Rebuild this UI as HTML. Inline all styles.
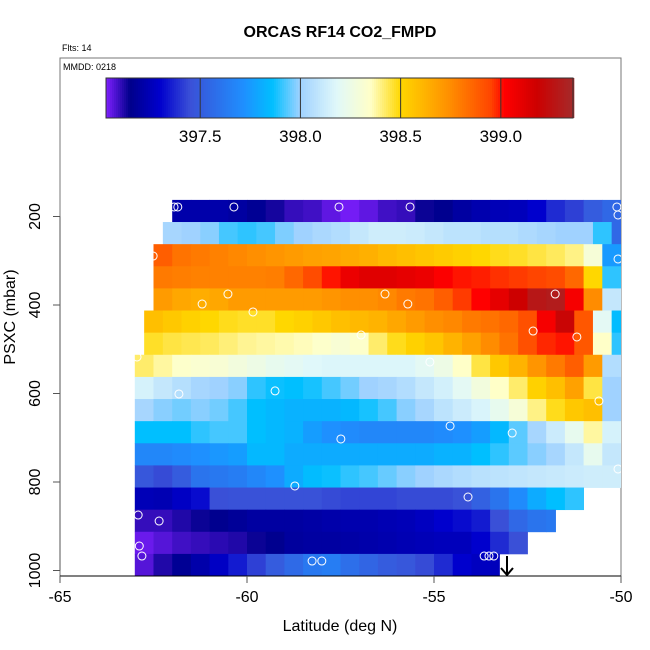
<!DOCTYPE html>
<html><head><meta charset="utf-8"><style>
html,body{margin:0;padding:0;background:#fff;}
svg{display:block;font-family:"Liberation Sans",Arial,sans-serif;}
</style></head><body>
<svg id="chart" width="650" height="650" viewBox="0 0 650 650" xmlns="http://www.w3.org/2000/svg">
<defs><clipPath id="plotclip"><rect x="60" y="58" width="561" height="518"/></clipPath></defs>
<text x="340" y="37" text-anchor="middle" font-size="16" font-weight="bold">ORCAS RF14 CO2_FMPD</text>
<text x="62" y="51" font-size="9">Flts: 14</text>
<rect x="60" y="58" width="561" height="518" fill="none" stroke="#777" stroke-width="1"/>
<text x="63" y="70" font-size="9">MMDD: 0218</text>
<g id="cells" clip-path="url(#plotclip)"></g>
<g id="points" clip-path="url(#plotclip)"></g>
<g id="colorbar"></g>
<g id="axes"></g>
<path d="M507,556 L507,575 M501,568 L507,575 L513,568" stroke="#000" stroke-width="2" fill="none"/>
<text x="340" y="631" text-anchor="middle" font-size="16">Latitude (deg N)</text>
<text transform="translate(15,317) rotate(-90)" text-anchor="middle" font-size="16">PSXC (mbar)</text>
</svg>
<script>
// ---- data ----
const pressureCenters = [187.5,237.5,287.5,337.5,387.5,437.5,487.5,537.5,587.5,637.5,687.5,737.5,787.5,837.5,887.5,937.5,987.5];
const rowStartLat = [-62,-62.25,-62.5,-62.5,-62.5,-62.75,-62.75,-63,-63,-63,-63,-63,-63,-63,-63,-63,-63];
const rowEndLat = [-50,-50,-50,-50,-50,-50,-50,-50,-50,-50,-50,-50,-50,-51,-51.75,-52.5,-53.25];
const cellWidthDeg = 0.5;
const row1 = [397.22,397.22,397.22,397.2,397.17,397.13,397.1,397.09,397.06,397.04,397.06,397.09,397.1,397.14,397.16,397.2,397.23,397.25,397.26,397.3,397.38,397.42,397.5,397.55];
const row2 = [398.02,398.0,397.98,397.92,397.9,397.92,397.97,398.0,398.03,398.05,398.1,398.13,398.13,398.12,398.1,398.08,398.08,398.06,398.06,398.04,398.02,398.0,398.0,397.9,397.55];
const row3 = [398.88,398.82,398.8,398.78,398.76,398.74,398.72,398.7,398.68,398.67,398.65,398.63,398.6,398.58,398.56,398.54,398.52,398.5,398.48,398.47,398.45,398.43,398.4,398.3,397.75];
const row4 = [398.8,398.79,398.78,398.78,398.78,398.78,398.79,398.85,398.93,399.0,399.08,399.12,399.12,399.1,399.08,399.03,399.0,398.99,398.97,398.96,398.95,398.93,398.85,398.5,397.9];
const row5 = [398.7,398.66,398.64,398.66,398.7,398.7,398.7,398.7,398.7,398.72,398.74,398.74,398.76,398.8,398.82,398.88,398.96,399.02,399.1,399.18,399.28,399.3,399.05,398.75,398.1];
const row6 = [398.58,398.55,398.52,398.5,398.48,398.47,398.47,398.5,398.52,398.55,398.58,398.6,398.62,398.66,398.7,398.74,398.76,398.8,398.82,398.85,398.92,399.05,399.2,398.9,398.2,397.85];
const row7 = [398.47,398.45,398.44,398.43,398.41,398.39,398.38,398.37,398.36,398.34,398.31,398.34,398.42,398.48,398.52,398.56,398.62,398.68,398.75,398.82,398.92,398.98,399.0,398.9,398.35,397.9];
const row8 = [398.42,398.38,398.34,398.32,398.31,398.28,398.25,398.22,398.2,398.18,398.17,398.17,398.17,398.17,398.17,398.2,398.25,398.35,398.45,398.55,398.62,398.72,398.8,398.88,398.7,398.05];
const row9 = [398.15,398.1,398.06,398.02,398.0,397.98,397.9,397.87,397.86,397.88,397.92,397.96,398.0,398.02,398.05,398.1,398.14,398.2,398.28,398.35,398.42,398.52,398.58,398.68,398.45,398.0];
const row10 = [398.02,397.98,397.96,397.98,397.96,397.92,397.86,397.84,397.82,397.82,397.82,397.84,397.88,397.92,397.98,398.02,398.08,398.12,398.16,398.22,398.3,398.4,398.48,398.55,398.58,398.0];
const row11 = [397.86,397.86,397.86,397.9,397.92,397.92,397.86,397.84,397.82,397.76,397.72,397.7,397.68,397.68,397.68,397.68,397.7,397.72,397.76,397.84,397.94,398.02,398.12,398.22,398.38,398.15];
const row12 = [397.68,397.68,397.7,397.72,397.74,397.76,397.84,397.84,397.8,397.8,397.8,397.8,397.8,397.8,397.8,397.8,397.82,397.82,397.86,397.9,397.94,397.98,398.02,398.1,398.22,398.1];
const row13 = [397.48,397.44,397.5,397.6,397.62,397.64,397.68,397.72,397.8,397.85,397.87,397.9,397.92,397.95,397.98,398.0,398.03,398.05,398.07,398.08,398.09,398.1,398.11,398.12,398.13,398.13];
const row14 = [397.25,397.24,397.28,397.32,397.45,397.46,397.46,397.46,397.46,397.46,397.44,397.43,397.43,397.43,397.44,397.44,397.44,397.46,397.52,397.6,397.7,397.8,397.86,397.9];
const row15 = [397.1,397.1,397.12,397.14,397.16,397.18,397.2,397.2,397.2,397.21,397.22,397.23,397.23,397.24,397.25,397.27,397.3,397.32,397.35,397.45,397.55,397.6,397.62];
const row16 = [397.05,397.07,397.09,397.1,397.11,397.12,397.14,397.16,397.19,397.2,397.2,397.21,397.22,397.23,397.24,397.25,397.26,397.26,397.3,397.38,397.45];
const row17 = [397.07,397.12,397.17,397.22,397.28,397.35,397.42,397.5,397.56,397.62,397.64,397.58,397.54,397.5,397.48,397.44,397.38,397.3,397.27,397.26];
const rows = [row1,row2,row3,row4,row5,row6,row7,row8,row9,row10,row11,row12,row13,row14,row15,row16,row17];
const pointLat = [-61.95,-61.85,-60.35,-57.54,-55.64,-50.11,-50.08,-62.51,-50.08,-61.2,-60.51,-56.31,-55.7,-51.76,-59.84,-56.95,-52.35,-51.18,-62.94,-55.11,-61.82,-59.25,-50.59,-54.57,-52.91,-57.49,-50.08,-58.72,-54.09,-62.91,-62.35,-62.88,-62.81,-58.26,-58.0,-53.66,-53.53,-53.4];
const pointP = [178.5,178.5,178.5,178.5,178.5,178.5,196.6,289.3,296,397.8,375.2,375.2,397.8,375.2,415.8,467.8,458.8,472.3,517.5,528.8,601,594.2,617,673.4,689.3,702.8,770.6,809,833.9,874.6,888.2,944.7,967.3,978.6,978.6,967.3,967.3,967.3];
const xTicks = [-65,-60,-55,-50];
const yTicks = [200,400,600,800,1000];
const cbTicks = [397.5,398.0,398.5,399.0];
const cbMin = 397.03, cbMax = 399.36;

// ---- scales ----
const xScale = lat => 60 + (lat + 65) * 37.4;
const yScale = p => 216.5 + (p - 200) * 0.4425;
const rowHalf = 25;
const stops = [[397.03,[127,31,255]],[397.15,[0,0,139]],[397.3,[0,0,205]],[397.45,[58,80,215]],[397.72,[30,144,255]],[397.86,[0,191,255]],[398.0,[160,210,255]],[398.18,[224,248,250]],[398.35,[255,255,200]],[398.5,[255,215,0]],[398.75,[255,140,0]],[398.95,[255,69,0]],[399.02,[255,0,0]],[399.18,[205,0,0]],[399.36,[165,42,42]]];
function color(v){
  if(v<=stops[0][0]) return 'rgb('+stops[0][1].join(',')+')';
  for(let i=1;i<stops.length;i++){
    if(v<=stops[i][0]){
      const a=stops[i-1],b=stops[i],t=(v-a[0])/(b[0]-a[0]);
      return 'rgb('+a[1].map((c,k)=>Math.round(c+(b[1][k]-c)*t)).join(',')+')';
    }
  }
  return 'rgb('+stops[stops.length-1][1].join(',')+')';
}
const NS='http://www.w3.org/2000/svg';
function mk(tag,attrs,parent){const e=document.createElementNS(NS,tag);for(const k in attrs)e.setAttribute(k,attrs[k]);parent.appendChild(e);return e;}

// ---- cells ----
const gCells=document.getElementById('cells');
rows.forEach((vals,r)=>{
  const y0=yScale(pressureCenters[r]-rowHalf), y1=yScale(pressureCenters[r]+rowHalf);
  vals.forEach((v,i)=>{
    const l0=rowStartLat[r]+i*cellWidthDeg;
    const l1=Math.min(l0+cellWidthDeg,rowEndLat[r]);
    if(l1<=l0) return;
    const x0=xScale(l0), x1=xScale(l1);
    const c=mk('rect',{x:x0.toFixed(2),y:y0.toFixed(2),width:(x1-x0+0.4).toFixed(2),height:(y1-y0+0.4).toFixed(2),fill:color(v)},gCells);
    
    
  });
});

// ---- points ----
const gPts=document.getElementById('points');
pointLat.forEach((lat,i)=>{
  const c=mk('circle',{cx:xScale(lat).toFixed(2),cy:yScale(pointP[i]).toFixed(2),r:4,fill:'none',stroke:'#fff','stroke-width':1},gPts);
  
  
});

// ---- colorbar ----
const gCb=document.getElementById('colorbar');
const cbX0=106, cbX1=573, cbY0=78, cbY1=118;
const cbX = v => cbX0 + (v - cbMin) / (cbMax - cbMin) * (cbX1 - cbX0);
for(let x=cbX0;x<cbX1;x+=2){
  const v=cbMin+(x+1-cbX0)/(cbX1-cbX0)*(cbMax-cbMin);
  mk('rect',{x:x,y:cbY0,width:2.3,height:cbY1-cbY0,fill:color(v)},gCb);
}
mk('rect',{x:cbX0,y:cbY0,width:cbX1-cbX0,height:cbY1-cbY0,fill:'none',stroke:'#333','stroke-width':1},gCb);
cbTicks.forEach(t=>{
  const x=cbX(t);
  const l=mk('line',{x1:x,x2:x,y1:cbY0,y2:cbY1,stroke:'#333','stroke-width':1},gCb);
  
  
  const tx=mk('text',{x:x,y:142,'text-anchor':'middle','font-size':17},gCb);
  tx.textContent=t.toFixed(1);
  
  
});

// ---- axes ----
const gAx=document.getElementById('axes');
mk('line',{x1:60,x2:621,y1:576,y2:576,stroke:'#000','stroke-width':1},gAx);
mk('line',{x1:60,x2:60,y1:yScale(200),y2:yScale(1000),stroke:'#555','stroke-width':1},gAx);
xTicks.forEach(t=>{
  const x=xScale(t);
  mk('line',{x1:x,x2:x,y1:576,y2:583,stroke:'#555','stroke-width':1},gAx);
  const tx=mk('text',{x:x,y:602,'text-anchor':'middle','font-size':16},gAx);
  tx.textContent=String(t);
  
  
});
yTicks.forEach(t=>{
  const y=yScale(t);
  mk('line',{x1:53,x2:60,y1:y,y2:y,stroke:'#555','stroke-width':1},gAx);
  const tx=mk('text',{transform:'translate(40,'+y+') rotate(-90)','text-anchor':'middle','font-size':16},gAx);
  tx.textContent=String(t);
  
  
});
</script>
</body></html>
